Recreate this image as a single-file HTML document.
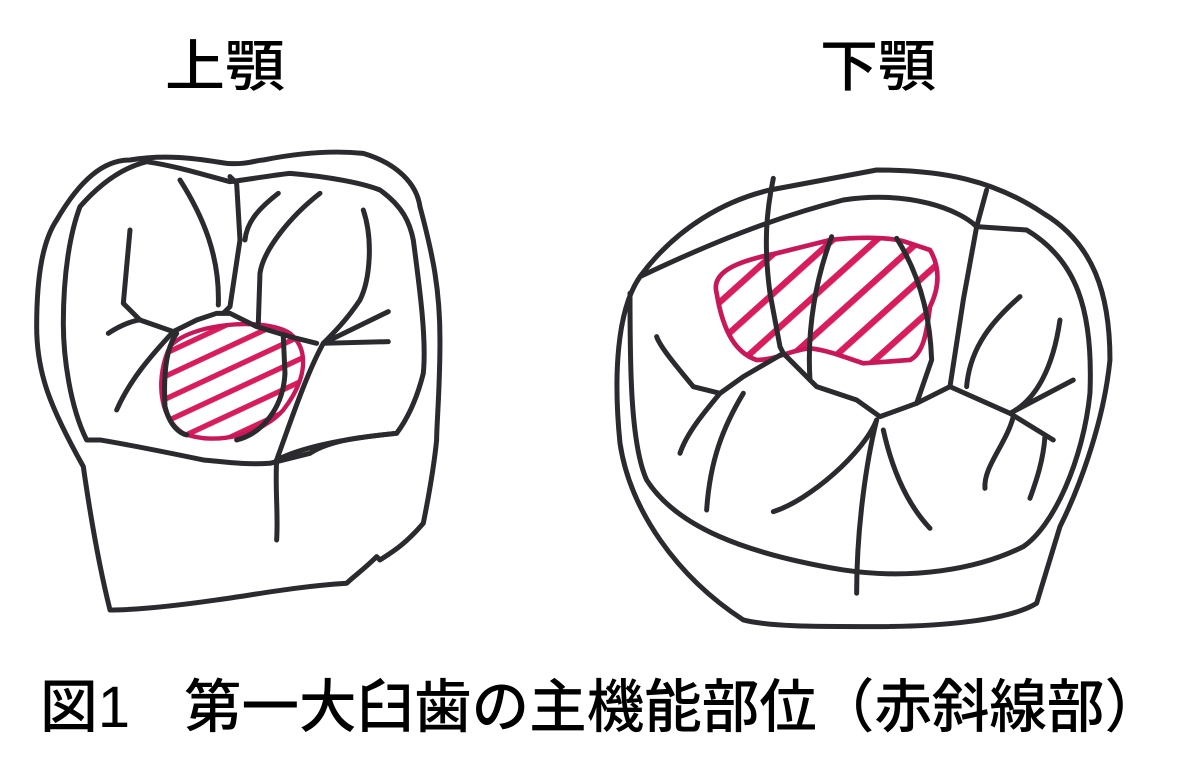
<!DOCTYPE html>
<html><head><meta charset="utf-8"><style>
html,body{margin:0;padding:0;background:#fff;}
svg{display:block;}
text{font-family:"Liberation Sans","Noto Sans CJK JP",sans-serif;fill:#000;font-weight:500;}
</style></head><body>
<svg width="1200" height="773" viewBox="0 0 1200 773" xmlns="http://www.w3.org/2000/svg">
<defs>
<pattern id="hl" patternUnits="userSpaceOnUse" width="62" height="62" patternTransform="rotate(-25)">
<rect x="0" y="0" width="62" height="16" fill="#d81c5c"/>
</pattern>
<pattern id="hr" patternUnits="userSpaceOnUse" width="88" height="88" patternTransform="rotate(-42)">
<rect x="0" y="0" width="88" height="19" fill="#d81c5c"/>
</pattern>
</defs>
<text x="165" y="86" font-size="56" textLength="120" lengthAdjust="spacingAndGlyphs">上顎</text>
<text x="820" y="86" font-size="56" textLength="116" lengthAdjust="spacingAndGlyphs">下顎</text>
<text x="40" y="727" font-size="58" textLength="90" lengthAdjust="spacingAndGlyphs">図1</text>
<text x="184" y="727" font-size="58" textLength="978" lengthAdjust="spacingAndGlyphs">第一大臼歯の主機能部位（赤斜線部）</text>

<!-- Left tooth -->
<g transform="translate(30,140) scale(0.3333)" fill="none" stroke="#2b2b2f" stroke-width="15" stroke-linecap="round" stroke-linejoin="round">
<path d="M420,620 C480,550 700,530 780,580 C840,630 830,720 760,810 C700,880 560,920 460,880 C380,830 380,700 420,620 Z" fill="url(#hl)" stroke="#c8185a" stroke-width="13"/>
<path d="M240,1410 C200,1250 170,1050 160,980 C60,800 20,700 20,560 C20,400 40,300 80,240 C150,120 220,60 300,60 C420,40 520,60 590,70 C650,75 680,60 700,60 C800,40 900,30 1000,40 C1100,70 1160,130 1170,200 C1210,350 1230,450 1230,600 C1230,750 1220,850 1220,900 C1210,1000 1190,1100 1180,1150 C1120,1220 1080,1240 1050,1260 L1040,1250 C1000,1290 970,1310 950,1330 C800,1340 700,1360 560,1380 C420,1400 320,1410 240,1410"/>
<path d="M170,900 C120,800 100,650 100,550 C100,400 120,280 150,200 C220,120 290,80 350,65 C450,80 540,110 600,125 C680,115 730,105 780,100 C900,110 1000,130 1050,150 C1120,200 1140,250 1150,300 C1170,450 1190,600 1180,700 C1160,780 1130,840 1100,880 C1000,890 900,900 840,940 C800,950 760,960 720,970 C640,975 580,965 520,960 C400,935 300,915 210,900 Z"/>
<path d="M600,110 L620,130 L630,300 L600,500 L580,520"/>
<path d="M450,120 C520,230 570,350 565,495"/>
<path d="M745,160 C680,210 650,250 645,300"/>
<path d="M870,160 C780,230 700,330 690,400 L685,550"/>
<path d="M300,270 L280,490 L330,540 L430,575 L500,540 L560,520 L600,520 L680,560 L780,590 L860,610"/>
<path d="M235,580 C280,550 320,540 330,540"/>
<path d="M430,575 C360,650 300,720 260,810"/>
<path d="M1000,210 C1030,300 1020,420 990,480 C950,540 910,580 880,610"/>
<path d="M880,610 L1075,515 M880,610 L1075,605"/>
<path d="M880,610 C830,700 780,850 740,960 C735,1050 745,1120 740,1200"/>
<path d="M740,960 C800,930 900,900 1100,880"/>
<path d="M620,900 C700,880 760,800 765,700 L760,590"/>
<path d="M440,580 C410,620 400,700 405,800 C420,860 450,880 470,885"/>
</g>

<!-- Right tooth -->
<g transform="translate(610,160) scale(0.3333)" fill="none" stroke="#2b2b2f" stroke-width="15" stroke-linecap="round" stroke-linejoin="round">
<path d="M320,400 C300,330 400,300 500,280 L660,240 C750,230 850,230 900,250 L960,270 C990,320 990,380 960,440 C950,520 940,580 900,600 L760,610 C700,590 650,570 600,565 C540,570 500,600 440,600 C380,580 340,520 320,400 Z" fill="url(#hr)" stroke="#c8185a" stroke-width="14"/>
<path d="M90,350 C200,200 350,120 480,90 L800,30 C1000,30 1150,60 1300,160 C1450,250 1500,400 1500,600 C1480,800 1400,1000 1350,1100 L1280,1330 C1200,1380 1000,1400 800,1400 C600,1400 480,1400 400,1380 C200,1250 60,1050 30,850 C10,650 20,450 90,350"/>
<path d="M90,350 C300,250 500,170 700,120 C900,90 1050,150 1100,200 L1250,210 C1400,300 1450,450 1440,700 C1420,900 1330,1100 1240,1160 C1100,1230 900,1260 700,1230 C400,1180 200,1100 110,960 C60,850 60,600 60,400"/>
<path d="M490,55 C470,150 460,250 480,400 L510,560 L520,580"/>
<path d="M1130,90 L1100,200 L1060,420 L1020,680 L920,730 L810,770 L740,720 L620,680 L600,660 L520,580 L400,650 L330,700 L250,680 C200,620 150,560 140,530"/>
<path d="M600,660 C590,500 620,350 665,230"/>
<path d="M860,235 C920,330 960,450 965,600 L920,730"/>
<path d="M1020,680 L1200,760 L1330,840"/>
<path d="M1230,410 C1150,480 1080,560 1070,680"/>
<path d="M1350,480 C1330,620 1280,720 1200,760 L1390,660"/>
<path d="M1210,770 C1190,850 1120,920 1125,985"/>
<path d="M1305,830 C1300,900 1280,960 1260,1015"/>
<path d="M330,700 C280,760 230,820 210,880"/>
<path d="M400,700 C340,800 300,900 290,1050"/>
<path d="M800,780 C760,880 600,1020 490,1055"/>
<path d="M800,780 C770,900 740,1100 740,1300"/>
<path d="M820,810 C840,900 880,1020 960,1105"/>
</g>
</svg>
</body></html>
